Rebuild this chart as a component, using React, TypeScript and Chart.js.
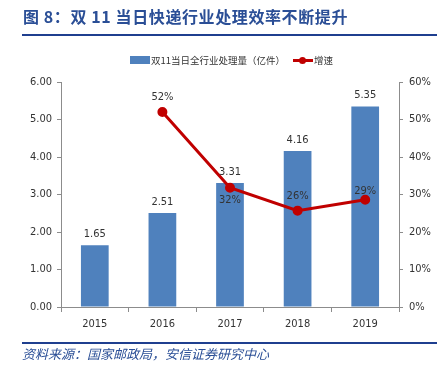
import React, { useEffect, useRef } from "react";
import { Chart, registerables } from "chart.js";

Chart.register(...registerables);

const categories = ["2015", "2016", "2017", "2018", "2019"];
const volume = [1.65, 2.51, 3.31, 4.16, 5.35];
const growth = [null, 0.52, 0.318, 0.257, 0.286];
const growthLabels = ["", "52%", "32%", "26%", "29%"];
const growthLabelOffset = [0, -15, 12, -14, -9];
const leftTicks = [0, 1, 2, 3, 4, 5, 6];
const rightTicks = [0, 0.1, 0.2, 0.3, 0.4, 0.5, 0.6];

const FONT = "'Liberation Sans Narrow', 'DejaVu Sans Condensed', Arial, 'Noto Sans CJK SC', sans-serif";
const BLUE = "#4F81BD";
const RED = "#C00000";
const TXT = "#333333";
const AXIS = "#8C8C8C";

const labelPlugin = {
  id: "valueLabels",
  afterDatasetsDraw(chart: any) {
    const ctx = chart.ctx;
    ctx.save();
    ctx.font = "11px " + FONT;
    ctx.fillStyle = TXT;
    ctx.textAlign = "center";
    ctx.textBaseline = "middle";
    const barMeta = chart.getDatasetMeta(0);
    barMeta.data.forEach((el: any, i: number) => {
      ctx.fillText(volume[i].toFixed(2), el.x, el.y - 11);
    });
    const lineMeta = chart.getDatasetMeta(1);
    lineMeta.data.forEach((el: any, i: number) => {
      if (growth[i] == null) return;
      ctx.fillText(growthLabels[i], el.x, el.y + growthLabelOffset[i]);
    });
    ctx.restore();
  },
};

export default function App() {
  const ref = useRef<HTMLCanvasElement>(null);
  useEffect(() => {
    if (!ref.current) return;
    const chart = new Chart(ref.current, {
      type: "bar",
      data: {
        labels: categories,
        datasets: [
          {
            type: "bar",
            label: "双11当日全行业处理量（亿件）",
            data: volume,
            backgroundColor: BLUE,
            yAxisID: "y",
            barPercentage: 0.82,
            categoryPercentage: 0.5,
            order: 2,
          },
          {
            type: "line",
            label: "增速",
            data: growth as any,
            borderColor: RED,
            backgroundColor: RED,
            borderWidth: 3,
            pointRadius: 3.5,
            pointBackgroundColor: RED,
            pointBorderColor: RED,
            yAxisID: "y1",
            order: 1,
            tension: 0,
          },
        ],
      },
      options: {
        animation: false,
        responsive: false,
        layout: { padding: { top: 82, bottom: 39, left: 0, right: 0 } },
        plugins: {
          legend: { display: false },
          tooltip: { enabled: false },
        },
        scales: {
          x: {
            grid: {
              display: true,
              drawOnChartArea: false,
              offset: true,
              tickLength: 5,
              color: AXIS,
            },
            border: { color: AXIS },
            ticks: { color: TXT, font: { size: 11, family: FONT }, padding: 6 },
            afterFit: (s: any) => {
              s.height = 23;
            },
          },
          y: {
            position: "left",
            min: 0,
            max: 6,
            afterBuildTicks: (s: any) => {
              s.ticks = leftTicks.map((v) => ({ value: v }));
            },
            grid: { drawOnChartArea: false, tickLength: 4, color: AXIS },
            border: { color: AXIS },
            ticks: {
              color: TXT,
              font: { size: 11, family: FONT },
              padding: 5,
              callback: (v: any) => Number(v).toFixed(2),
            },
            afterFit: (s: any) => {
              s.width = 61;
            },
          },
          y1: {
            position: "right",
            min: 0,
            max: 0.6,
            afterBuildTicks: (s: any) => {
              s.ticks = rightTicks.map((v) => ({ value: v }));
            },
            grid: { drawOnChartArea: false, tickLength: 4, color: AXIS },
            border: { color: AXIS },
            ticks: {
              color: TXT,
              font: { size: 11, family: FONT },
              padding: 6,
              callback: (v: any) => Math.round(Number(v) * 100) + "%",
            },
            afterFit: (s: any) => {
              s.width = 45;
            },
          },
        },
      },
      plugins: [labelPlugin],
    });
    return () => chart.destroy();
  }, []);

  const cjk = "'Noto Sans CJK SC', sans-serif";
  return (
    <div
      style={{
        position: "fixed",
        left: 0,
        top: 0,
        width: 444,
        height: 369,
        background: "#fff",
        overflow: "hidden",
      }}
    >
      <canvas
        ref={ref}
        width={444}
        height={369}
        style={{ position: "absolute", left: 0, top: 0, width: 444, height: 369 }}
      />
      <div
        style={{
          position: "absolute",
          left: 23,
          top: 5,
          fontFamily: cjk,
          fontWeight: 700,
          fontSize: 16,
          letterSpacing: 0.6,
          color: "#2A4E96",
          whiteSpace: "nowrap",
          lineHeight: "22px",
        }}
      >
        图 8：双 11 当日快递行业处理效率不断提升
      </div>
      <div
        style={{
          position: "absolute",
          left: 22,
          top: 34,
          width: 415,
          height: 2,
          background: "#1F3F8F",
        }}
      />
      <div
        style={{
          position: "absolute",
          left: 130,
          top: 56,
          width: 20,
          height: 8,
          background: BLUE,
        }}
      />
      <div
        style={{
          position: "absolute",
          left: 151,
          top: 52,
          fontFamily: cjk,
          fontSize: 9.5,
          color: TXT,
          whiteSpace: "nowrap",
          lineHeight: "16px",
        }}
      >
        双11当日全行业处理量（亿件）
      </div>
      <div
        style={{
          position: "absolute",
          left: 293,
          top: 59,
          width: 20,
          height: 3,
          background: RED,
        }}
      />
      <div
        style={{
          position: "absolute",
          left: 299,
          top: 57,
          width: 7,
          height: 7,
          borderRadius: "50%",
          background: RED,
        }}
      />
      <div
        style={{
          position: "absolute",
          left: 314,
          top: 52,
          fontFamily: cjk,
          fontSize: 9.5,
          color: TXT,
          whiteSpace: "nowrap",
          lineHeight: "16px",
        }}
      >
        增速
      </div>
      <div
        style={{
          position: "absolute",
          left: 22,
          top: 342,
          width: 415,
          height: 1.5,
          background: "#1F3F8F",
        }}
      />
      <div
        style={{
          position: "absolute",
          left: 22,
          top: 345,
          fontFamily: cjk,
          fontStyle: "italic",
          fontSize: 13,
          color: "#2A4E96",
          whiteSpace: "nowrap",
          lineHeight: "18px",
        }}
      >
        资料来源：国家邮政局，安信证券研究中心
      </div>
    </div>
  );
}
